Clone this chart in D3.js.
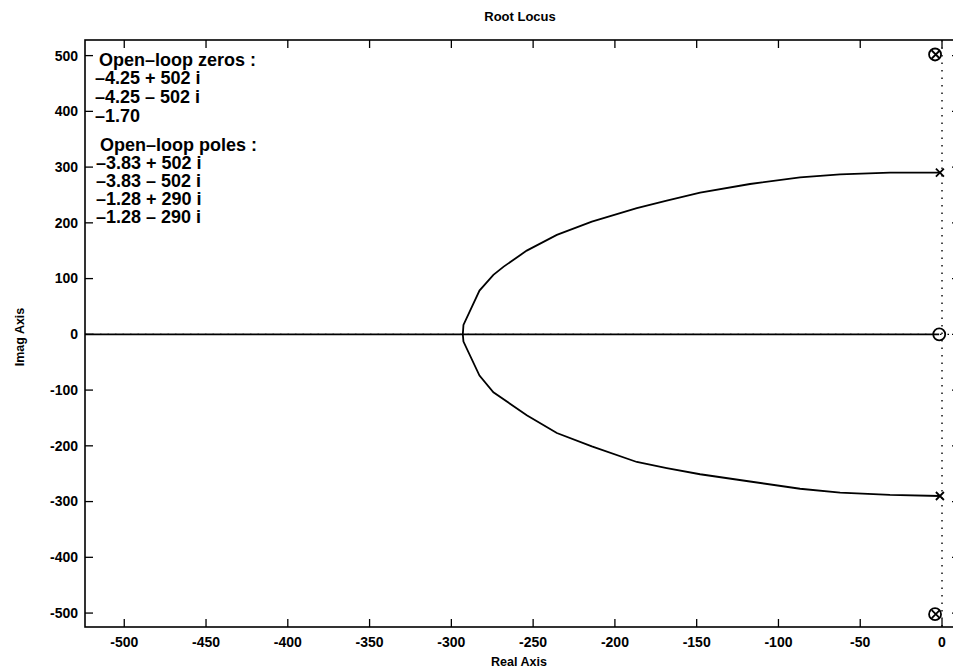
<!DOCTYPE html>
<html>
<head>
<meta charset="utf-8">
<script src="https://cdn.jsdelivr.net/npm/d3@7"></script>
<style>
  body { margin: 0; background: #fff; }
  text { font-family: "Liberation Sans", Arial, sans-serif; fill: #000; }
</style>
</head>
<body>
<script>
// --- data ---
const xTicks = [-500, -450, -400, -350, -300, -250, -200, -150, -100, -50, 0];
const yTicks = [-500, -400, -300, -200, -100, 0, 100, 200, 300, 400, 500];

const zeros = [[-4.25, 502], [-4.25, -502], [-1.70, 0]];
const poles = [[-3.83, 502], [-3.83, -502], [-1.28, 290], [-1.28, -290]];

// upper branch: from pole -1.28+290i to break-in point on the real axis
const upperBranch = [[-1.28, 290], [-31.8, 290], [-62.3, 287], [-86.8, 281.7], [-117.4, 269.7],
  [-147.9, 254.1], [-168.3, 239.8], [-186.6, 226.2], [-214.1, 202.2], [-235.5, 178.3],
  [-253.9, 150.2], [-268, 121.5], [-274.3, 106.6], [-282.8, 78.5], [-292.6, 17], [-293, 0]];
// lower branch: from pole -1.28-290i to the same break-in point
const lowerBranch = [[-1.28, -290], [-31.8, -288], [-62.3, -284], [-86.8, -277], [-117.4, -264],
  [-147.9, -251], [-168.3, -240], [-186.6, -229], [-214.1, -201], [-235.5, -177],
  [-253.9, -145], [-274.3, -104], [-282.8, -74], [-292.6, -13], [-293, 0]];
// real-axis segment left of the zero at -1.70
const realAxisBranch = [[-524, 0], [-1.70, 0]];

const zeroLines = ["Open\u2013loop zeros :", "\u20134.25 + 502 i", "\u20134.25 \u2013 502 i", "\u20131.70"];
const poleLines = ["Open\u2013loop poles :", "\u20133.83 + 502 i", "\u20133.83 \u2013 502 i", "\u20131.28 + 290 i", "\u20131.28 \u2013 290 i"];

// --- layout ---
const W = 953, H = 671;
const m = {left: 85, right: 960, top: 40, bottom: 627};

const svg = d3.select("body").append("svg")
  .attr("width", W).attr("height", H);

const x = d3.scaleLinear().domain([-524, 11]).range([m.left, m.right]);
const y = d3.scaleLinear().domain([-525, 528]).range([m.bottom, m.top]);

// dotted axes through the origin
svg.append("line")
  .attr("x1", x(0)).attr("x2", x(0)).attr("y1", m.top).attr("y2", m.bottom)
  .attr("stroke", "#000").attr("stroke-width", 1.4).attr("stroke-dasharray", "1.5,6");
svg.append("line")
  .attr("x1", m.left).attr("x2", m.right).attr("y1", y(0)).attr("y2", y(0))
  .attr("stroke", "#000").attr("stroke-width", 1.4).attr("stroke-dasharray", "1.5,6");

// locus branches
const line = d3.line().x(d => x(d[0])).y(d => y(d[1]));
[upperBranch, lowerBranch, realAxisBranch].forEach(b => {
  svg.append("path")
    .attr("d", line(b))
    .attr("fill", "none")
    .attr("stroke", "#000")
    .attr("stroke-width", 1.8);
});

// zeros (circles)
svg.selectAll(".zero").data(zeros).enter().append("circle")
  .attr("cx", d => x(d[0])).attr("cy", d => y(d[1]))
  .attr("r", 6)
  .attr("fill", "none").attr("stroke", "#000").attr("stroke-width", 1.8);

// poles (crosses)
const s = 4;
svg.selectAll(".pole").data(poles).enter().append("path")
  .attr("d", d => {
    const cx = x(d[0]), cy = y(d[1]);
    return `M${cx - s},${cy - s}L${cx + s},${cy + s}M${cx - s},${cy + s}L${cx + s},${cy - s}`;
  })
  .attr("stroke", "#000").attr("stroke-width", 1.8);

// axes frame with inward ticks
const tickLen = 8;
const axes = svg.append("g");
axes.append("rect")
  .attr("x", m.left).attr("y", m.top).attr("width", m.right - m.left).attr("height", m.bottom - m.top)
  .attr("fill", "none").attr("stroke", "#000").attr("stroke-width", 1.6);

xTicks.forEach(t => {
  axes.append("line").attr("x1", x(t)).attr("x2", x(t)).attr("y1", m.bottom).attr("y2", m.bottom - tickLen)
    .attr("stroke", "#000").attr("stroke-width", 1.3);
  axes.append("line").attr("x1", x(t)).attr("x2", x(t)).attr("y1", m.top).attr("y2", m.top + tickLen)
    .attr("stroke", "#000").attr("stroke-width", 1.3);
  axes.append("text").attr("x", x(t)).attr("y", 647)
    .attr("text-anchor", "middle").attr("font-size", 14).attr("font-weight", "bold")
    .text(String(t));
});
yTicks.forEach(t => {
  axes.append("line").attr("x1", m.left).attr("x2", m.left + tickLen).attr("y1", y(t)).attr("y2", y(t))
    .attr("stroke", "#000").attr("stroke-width", 1.3);
  axes.append("line").attr("x1", m.right).attr("x2", m.right - tickLen).attr("y1", y(t)).attr("y2", y(t))
    .attr("stroke", "#000").attr("stroke-width", 1.3);
  axes.append("text").attr("x", m.left - 7).attr("y", y(t)).attr("dy", "0.35em")
    .attr("text-anchor", "end").attr("font-size", 14).attr("font-weight", "bold")
    .text(String(t));
});

// titles
svg.append("text").attr("x", 520).attr("y", 21).attr("text-anchor", "middle")
  .attr("font-size", 13).attr("font-weight", "bold").text("Root Locus");
svg.append("text").attr("x", 519).attr("y", 666).attr("text-anchor", "middle")
  .attr("font-size", 12.5).attr("font-weight", "bold").text("Real Axis");
svg.append("text").attr("transform", "translate(24,337) rotate(-90)").attr("text-anchor", "middle")
  .attr("font-size", 12.5).attr("font-weight", "bold").text("Imag Axis");

// zero / pole listing
const zeroY = [66, 84, 103, 122];
const poleY = [151, 169, 187, 205, 223];
zeroLines.forEach((t, i) => {
  svg.append("text").attr("x", i === 0 ? 99 : 95).attr("y", zeroY[i])
    .attr("font-size", 18).attr("font-weight", "bold").text(t);
});
poleLines.forEach((t, i) => {
  svg.append("text").attr("x", i === 0 ? 100 : 96).attr("y", poleY[i])
    .attr("font-size", 18).attr("font-weight", "bold").text(t);
});
</script>
</body>
</html>
